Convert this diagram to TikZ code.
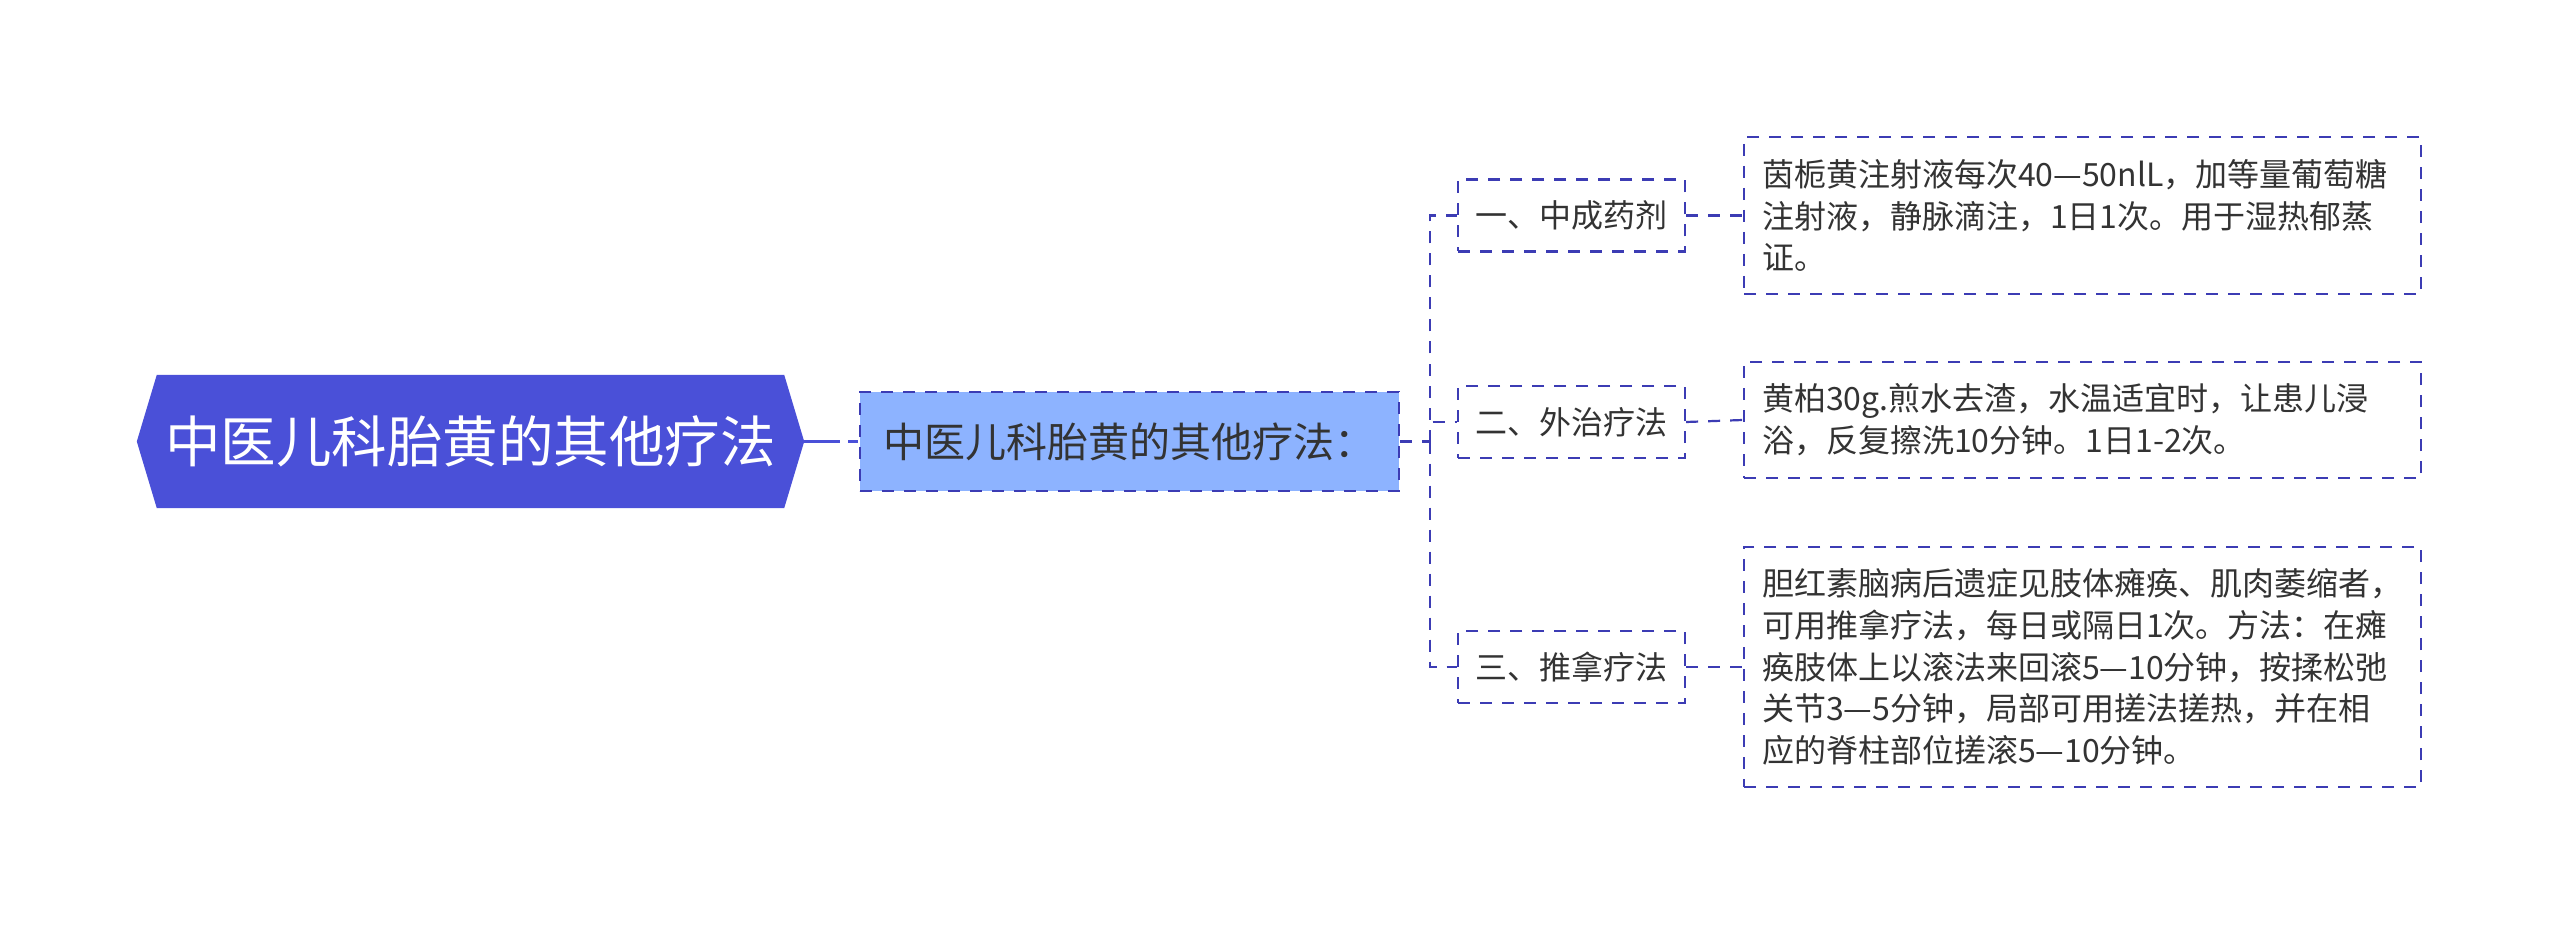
\documentclass[tikz,border=0pt]{standalone}
\usepackage{fontspec}
\setmainfont{Noto Sans CJK SC}
\usetikzlibrary{calc,backgrounds}
\definecolor{rootblue}{HTML}{4A50D8}
\definecolor{childblue}{HTML}{8DB3FF}
\definecolor{lineblue}{HTML}{3C3CB4}
\definecolor{txt}{HTML}{333333}
\begin{document}
\begin{tikzpicture}[x=1pt,y=-1pt,
  boxdash/.style={draw=lineblue, line width=2.2pt, dash pattern=on 12pt off 10pt},
  conn/.style={draw=lineblue, line width=2.2pt, dash pattern=on 12pt off 10pt},
  rootconn/.style={draw=rootblue, line width=3pt, dash pattern=on 36pt off 8pt on 10pt off 5pt},
  rootnode/.style={text=white, font=\fontsize{55.5}{60}\selectfont, minimum width=627pt, minimum height=133pt, inner sep=0pt},
  childnode/.style={boxdash, fill=childblue, text=txt, font=\fontsize{41}{48}\selectfont, minimum width=539pt, minimum height=99pt, inner sep=0pt},
  catnode/.style={boxdash, text=txt, font=\fontsize{32}{40}\selectfont, minimum width=227pt, minimum height=72pt, inner sep=0pt},
  leafnode/.style={boxdash, text=txt, font=\fontsize{32}{41.7}\selectfont, text width=641pt, inner xsep=18pt, inner ysep=0pt, align=left},
]
\useasboundingbox (0,0) rectangle (2560,925);

\node[rootnode] (root) at (470.5,441.5) {中医儿科胎黄的其他疗法};
\begin{pgfonlayer}{background}
\fill[white] (0,0) rectangle (2560,925);
\fill[rootblue] (root.north west) -- (root.north east) -- ($(root.east)+(20,0)$) -- (root.south east) -- (root.south west) -- ($(root.west)+(-20,0)$) -- cycle;
\end{pgfonlayer}
\coordinate (roottip) at ($(root.east)+(20,0)$);

\node[childnode] (child) at (1129.5,441.5) {中医儿科胎黄的其他疗法：};

\node[catnode] (ca) at (1571.5,215.5) {一、中成药剂};
\node[catnode] (cb) at (1571.5,422) {二、外治疗法};
\node[catnode] (cc) at (1571.5,667) {三、推拿疗法};

\node[leafnode, minimum height=157pt] (la) at (2082.5,215.5) {茵栀黄注射液每次40—50nlL，加等量葡萄糖\\注射液，静脉滴注，1日1次。用于湿热郁蒸\\证。};
\node[leafnode, minimum height=116pt] (lb) at (2082.5,420) {黄柏30g.煎水去渣，水温适宜时，让患儿浸\\浴，反复擦洗10分钟。1日1-2次。};
\node[leafnode, minimum height=240pt] (lc) at (2082.5,667) {胆红素脑病后遗症见肢体瘫痪、肌肉萎缩者，\\可用推拿疗法，每日或隔日1次。方法：在瘫\\痪肢体上以滚法来回滚5—10分钟，按揉松弛\\关节3—5分钟，局部可用搓法搓热，并在相\\应的脊柱部位搓滚5—10分钟。};

\draw[rootconn] (roottip) -- (child.west);
\coordinate (trunk) at (1430,441.5);
\draw[conn] (child.east) -- (trunk);
\draw[conn] (trunk) |- (ca.west);
\draw[conn] (trunk) |- (cb.west);
\draw[conn] (trunk) |- (cc.west);
\draw[conn] (ca.east) -- (la.west);
\draw[conn] (cb.east) -- (lb.west);
\draw[conn] (cc.east) -- (lc.west);
\end{tikzpicture}
\end{document}
